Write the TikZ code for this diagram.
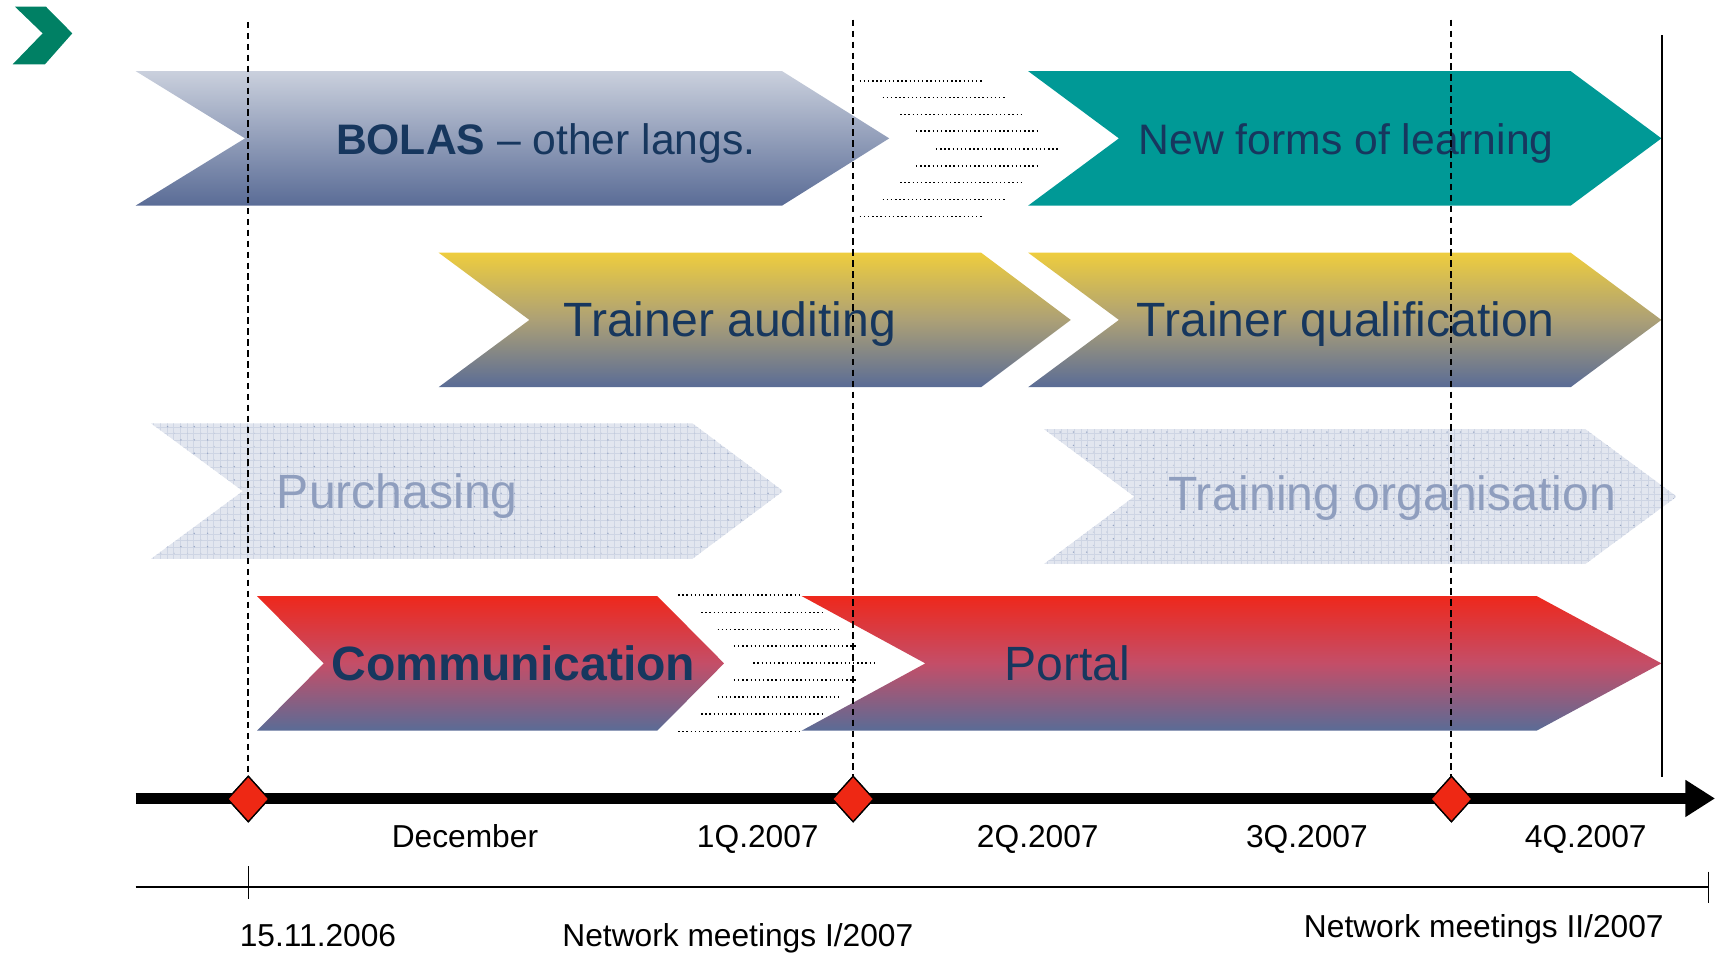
\documentclass[tikz,border=0pt]{standalone}
\usepackage{fontspec}
\setmainfont{Liberation Sans}
\usetikzlibrary{shapes.geometric,arrows.meta,calc}
\definecolor{navy}{RGB}{23,55,94}
\definecolor{bolastop}{RGB}{202,208,221}
\definecolor{slate}{RGB}{90,108,150}
\definecolor{yellowtop}{RGB}{238,205,62}
\definecolor{yellowmid}{RGB}{172,160,118}
\definecolor{redtop}{RGB}{238,40,28}
\definecolor{redmid}{RGB}{196,78,104}
\definecolor{teal}{RGB}{0,153,150}
\definecolor{logogreen}{RGB}{0,128,100}
\definecolor{msred}{RGB}{238,40,20}
\definecolor{patfill}{RGB}{226,230,239}
\definecolor{patgrid}{RGB}{206,213,228}
\definecolor{patdot}{RGB}{150,165,195}
\definecolor{ghosttext}{RGB}{143,158,190}
\newcommand\chevron[7][]{%
  \path[#1] (#2,#6) -- (#4,#6) -- (#5,{(#6+#7)/2}) -- (#4,#7) -- (#2,#7) -- (#3,{(#6+#7)/2}) -- cycle;}
\newcommand\ghostchevron[6]{%
  \begin{scope}
    \clip (#1,#5) -- (#3,#5) -- (#4,{(#5+#6)/2}) -- (#3,#6) -- (#1,#6) -- (#2,{(#5+#6)/2}) -- cycle;
    \fill[patfill] (#1,#5) rectangle (#4,#6);
    \draw[patgrid, line width=0.4pt, step=6.1pt] (#1,#5) grid (#4,#6);
    \foreach \i in {0,...,50} {
      \foreach \j in {0,...,10} {
        \fill[patdot] ({#1+\i*12.2+3},{#5+\j*12.2+3}) circle (0.7pt);
        \fill[patdot!60] ({#1+\i*12.2+9.1},{#5+\j*12.2+9.1}) circle (0.6pt);
      }
    }
  \end{scope}}
\tikzset{
  chevtext/.style={anchor=base west, inner sep=0pt, text=navy},
  bigfont/.style={font=\fontsize{44}{52}\selectfont},
  midfont/.style={font=\fontsize{39}{47}\selectfont},
  axisfont/.style={anchor=base west, inner sep=0pt, font=\fontsize{29}{35}\selectfont},
  dashline/.style={line width=1.7pt, dash pattern=on 6pt off 4pt},
  dotline/.style={line width=1.4pt, dash pattern=on 1.3pt off 2.5pt},
  milestone/.style={diamond, draw=black, line width=1.2pt, fill=msred, minimum width=38pt, minimum height=42pt, inner sep=0pt}
}
\begin{document}
\begin{tikzpicture}[x=1pt,y=-1pt]
\useasboundingbox (0,0) rectangle (1568,871);

% logo
\fill[logogreen] (13.7,6.1) -- (42,6.1) -- (66.1,30.5) -- (41.1,58.8) -- (11.6,58.8) -- (39,30.5) -- cycle;

% row 1
\chevron[top color=bolastop, bottom color=slate]{124}{224}{715}{813}{65}{188}
\chevron[fill=teal]{940}{1023}{1436}{1519}{65}{188}
\foreach \yy/\xa/\xb in {74/786/897.5, 89.3/807/919, 104.5/823/934, 119.8/837.5/949, 136.2/855.7/967.3, 151.8/837.5/949, 167/823/934, 182.2/807/919, 198/786/897.5}
  \draw[dotline] (\xa,\yy) -- (\xb,\yy);

% row 2
\chevron[top color=yellowtop, bottom color=slate, middle color=yellowmid]{401}{484}{897}{979}{231}{354}
\chevron[top color=yellowtop, bottom color=slate, middle color=yellowmid]{940}{1023}{1436}{1519}{231}{354}

% row 3
\ghostchevron{138}{222}{633}{716}{387}{511}
\ghostchevron{954}{1037}{1449}{1533}{392}{516}

% row 4
\chevron[top color=redtop, bottom color=slate, middle color=redmid]{235}{296}{601}{662}{545}{668}
\chevron[top color=redtop, bottom color=slate, middle color=redmid]{733}{846}{1405}{1519}{545}{668}
\foreach \yy/\xa/\xb in {544/620/733, 559.8/641/752.7, 575.4/656/768, 590.6/671/783, 606.4/688.7/801, 621.7/671/783, 637.3/656/768, 653/641/752.7, 669/620/733}
  \draw[dotline] (\xa,\yy) -- (\xb,\yy);

% texts in chevrons
\node[chevtext, midfont] (bolas) at (307,141) {\textbf{BOLAS} -- other langs.};
\node[chevtext, midfont] (newforms) at (1041,141) {New forms of learning};
\node[chevtext, bigfont] (audit) at (515,308) {Trainer auditing};
\node[chevtext, bigfont] (qual) at (1039,308) {Trainer qualification};
\node[chevtext, bigfont, text=ghosttext] (purch) at (253,465) {Purchasing};
\node[chevtext, bigfont, text=ghosttext] (trorg) at (1068,467) {Training organisation};
\node[chevtext, bigfont] (comm) at (303,622) {\textbf{Communication}};
\node[chevtext, bigfont] (portal) at (918,622) {Portal};

% timeline
\coordinate (tlstart) at (124,730);
\coordinate (tlend) at (1568,730);
\draw[line width=10.5pt, -{Triangle[length=27pt,width=32pt]}] (tlstart) -- (tlend);

% milestones and dashed lines
\node[milestone] (m1) at (227,730.5) {};
\node[milestone] (m2) at (780,730.5) {};
\node[milestone] (m3) at (1327,730.5) {};
\coordinate (d1) at (227,20);
\coordinate (d2) at (780,18);
\coordinate (d3) at (1327,18);
\draw[dashline] (d1) -- ($(m1.north)+(0,4)$);
\draw[dashline] (d2) -- ($(m2.north)+(0,4)$);
\draw[dashline] (d3) -- ($(m3.north)+(0,4)$);
\node[milestone] at (m1) {};
\node[milestone] at (m2) {};
\node[milestone] at (m3) {};

% end line
\coordinate (e1) at (1519.5,32);
\coordinate (e2) at (1519.5,710);
\draw[line width=1.5pt] (e1) -- (e2);

% period labels
\node[axisfont] (dec) at (358,775) {December};
\node[axisfont] (q1) at (637,775) {1Q.2007};
\node[axisfont] (q2) at (893,775) {2Q.2007};
\node[axisfont] (q3) at (1139,775) {3Q.2007};
\node[axisfont] (q4) at (1394,775) {4Q.2007};

% lower scale
\coordinate (s0) at (124,811);
\coordinate (s1) at (1562,811);
\draw[line width=1.3pt] (s0) -- (s1);
\coordinate (t1a) at (227,792);
\coordinate (t1b) at (227,822);
\coordinate (t2a) at (1562,797);
\coordinate (t2b) at (1562,826);
\draw[line width=1.3pt] (t1a) -- (t1b);
\draw[line width=1.3pt] (t2a) -- (t2b);

\node[axisfont] (date) at (219,865.5) {15.11.2006};
\node[axisfont] (nm1) at (514,865.5) {Network meetings I/2007};
\node[axisfont] (nm2) at (1192,857.5) {Network meetings II/2007};
\end{tikzpicture}
\end{document}
